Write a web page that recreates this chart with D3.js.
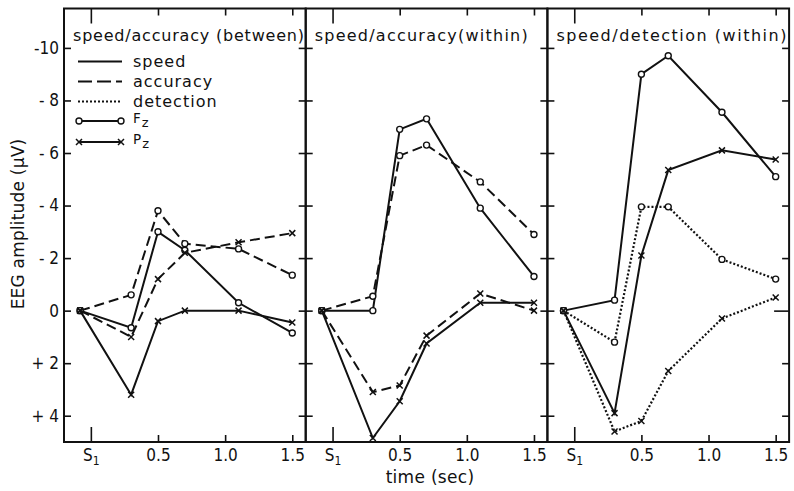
<!DOCTYPE html>
<html><head><meta charset="utf-8">
<script src="https://cdn.jsdelivr.net/npm/d3@7"></script>
<style>
body{margin:0;background:#fff}
svg text{font-family:"DejaVu Sans Condensed","DejaVu Sans",sans-serif;fill:#111}
svg text.wide{font-family:"DejaVu Sans",sans-serif}
</style></head><body>
<svg id="chart" width="794" height="491"></svg>
<script>
// Sample times (s) relative to stimulus S1; first point is the pre-stimulus baseline
const times = [-0.08, 0.3, 0.5, 0.7, 1.1, 1.5];

const panelTitles = ["speed/accuracy (between)", "speed/accuracy(within)", "speed/detection (within)"];
const xTickValues = [0, 0.5, 1.0, 1.5];
const xTickLabels = ["S", "0.5", "1.0", "1.5"];
const yTickValues = [-10, -8, -6, -4, -2, 0, 2, 4];
const yTickLabels = ["-10", "- 8", "- 6", "- 4", "- 2", "0", "+ 2", "+ 4"];

// speed/accuracy (between)
const betweenSpeedFz    = [0, 0.65, -3.0, -2.3, -0.3, 0.85];
const betweenAccuracyFz = [0, -0.6, -3.8, -2.55, -2.35, -1.35];
const betweenSpeedPz    = [0, 3.2, 0.4, 0.0, 0.0, 0.45];
const betweenAccuracyPz = [0, 1.0, -1.2, -2.2, -2.6, -2.95];

// speed/accuracy (within)
const withinSpeedFz    = [0, 0.0, -6.9, -7.3, -3.9, -1.3];
const withinAccuracyFz = [0, -0.55, -5.9, -6.3, -4.9, -2.9];
const withinSpeedPz    = [0, 4.85, 3.45, 1.25, -0.3, -0.3];
const withinAccuracyPz = [0, 3.1, 2.85, 0.95, -0.65, 0.0];

// speed/detection (within)
const detSpeedFz     = [0, -0.4, -9.0, -9.7, -7.55, -5.1];
const detSpeedPz     = [0, 3.9, -2.1, -5.35, -6.1, -5.75];
const detDetectionFz = [0, 1.2, -3.95, -3.95, -1.95, -1.2];
const detDetectionPz = [0, 4.6, 4.2, 2.3, 0.3, -0.5];

const legendConditions = ["speed", "accuracy", "detection"];
const legendSites = ["F", "P"];

const panelSeries = [
  [
    {cond: "speed", site: "Fz", values: betweenSpeedFz},
    {cond: "accuracy", site: "Fz", values: betweenAccuracyFz},
    {cond: "speed", site: "Pz", values: betweenSpeedPz},
    {cond: "accuracy", site: "Pz", values: betweenAccuracyPz}
  ],
  [
    {cond: "speed", site: "Fz", values: withinSpeedFz},
    {cond: "accuracy", site: "Fz", values: withinAccuracyFz},
    {cond: "speed", site: "Pz", values: withinSpeedPz},
    {cond: "accuracy", site: "Pz", values: withinAccuracyPz}
  ],
  [
    {cond: "speed", site: "Fz", values: detSpeedFz},
    {cond: "speed", site: "Pz", values: detSpeedPz},
    {cond: "detection", site: "Fz", values: detDetectionFz},
    {cond: "detection", site: "Pz", values: detDetectionPz}
  ]
];

const dash = {speed: null, accuracy: "10,5", detection: "2,2"};
const width = {speed: 2, accuracy: 2, detection: 2.2};

const svg = d3.select("#chart");
const plotLeft = 64, panelW = 241.7, plotTop = 8.5, plotBottom = 442;
const titleWidths = [231, 213, 230];

const y = d3.scaleLinear().domain([-11.5, 5]).range([plotTop, plotBottom]);
const line = (x) => d3.line().x((d, i) => x(times[i])).y(d => y(d));

function drawMarker(g, site, cx, cy) {
  if (site === "Fz") {
    g.append("circle").attr("cx", cx).attr("cy", cy).attr("r", 3)
      .attr("fill", "#fff").attr("stroke", "#111").attr("stroke-width", 1.4);
  } else {
    const s = 3;
    g.append("path")
      .attr("d", `M${cx - s},${cy - s}L${cx + s},${cy + s}M${cx - s},${cy + s}L${cx + s},${cy - s}`)
      .attr("stroke", "#111").attr("stroke-width", 1.5).attr("fill", "none");
  }
}

panelTitles.forEach((title, p) => {
  const x0 = plotLeft + p * panelW;
  const x = d3.scaleLinear().domain([-0.2, 1.6]).range([x0, x0 + panelW]);
  const g = svg.append("g");

  // tick marks on all four sides, pointing inward
  const axL = g.append("g").attr("transform", `translate(${x0},0)`)
    .call(d3.axisLeft(y).tickValues(yTickValues).tickSize(-7).tickPadding(5)
      .tickFormat((d, i) => p === 0 ? yTickLabels[i] : ""));
  const axR = g.append("g").attr("transform", `translate(${x0 + panelW},0)`)
    .call(d3.axisRight(y).tickValues(yTickValues).tickSize(-7).tickFormat(""));
  if (p === 2) axR.selectAll(".tick").filter(d => d === 0).select("line").attr("x2", -15);
  const axT = g.append("g").attr("transform", `translate(0,${plotTop})`)
    .call(d3.axisTop(x).tickValues(xTickValues).tickSize(-7).tickFormat(""));
  axT.selectAll(".tick").filter(d => d === 0).select("line").attr("y2", 15);
  const axB = g.append("g").attr("transform", `translate(0,${plotBottom})`)
    .call(d3.axisBottom(x).tickValues(xTickValues).tickSize(-7).tickPadding(7)
      .tickFormat((d, i) => xTickLabels[i]));
  axB.selectAll(".tick").filter(d => d === 0).select("line").attr("y2", -15);
  axB.selectAll(".tick").filter(d => d === 0).select("text")
    .append("tspan").attr("font-size", 12).attr("dy", "0.3em").text("1");

  [axL, axR, axT, axB].forEach(a => {
    a.select(".domain").remove();
    a.selectAll("line").attr("stroke", "#111").attr("stroke-width", 1.6);
    a.selectAll("text").attr("font-size", 17).attr("fill", "#111")
      .style("font-family", '"DejaVu Sans Condensed","DejaVu Sans",sans-serif');
  });

  // frame
  g.append("rect").attr("x", x0).attr("y", plotTop).attr("width", panelW).attr("height", plotBottom - plotTop)
    .attr("fill", "none").attr("stroke", "#111").attr("stroke-width", 2);

  g.append("text").attr("class", "wide").attr("x", x0 + 9).attr("y", 41)
    .attr("font-size", 16).attr("textLength", titleWidths[p]).attr("lengthAdjust", "spacing")
    .text(title);

  panelSeries[p].forEach(s => {
    g.append("path").datum(s.values).attr("d", line(x))
      .attr("fill", "none").attr("stroke", "#111").attr("stroke-width", width[s.cond])
      .attr("stroke-dasharray", dash[s.cond]);
    s.values.forEach((v, i) => drawMarker(g, s.site, x(times[i]), y(v)));
  });
});

// legend inside the first panel
const lg = svg.append("g");
const lx0 = 79, lx1 = 121, ltx = 133;
legendConditions.forEach((c, i) => {
  const ly = 61.5 + i * 20;
  lg.append("line").attr("x1", lx0 - 1).attr("x2", lx1 + 1).attr("y1", ly).attr("y2", ly)
    .attr("stroke", "#111").attr("stroke-width", c === "detection" ? 1.8 : 2.2)
    .attr("stroke-dasharray", c === "accuracy" ? "14,5" : dash[c]);
  lg.append("text").attr("class", "wide").attr("x", ltx).attr("y", ly + 5.5)
    .attr("font-size", 16).attr("letter-spacing", 1).text(c);
});
legendSites.forEach((s, i) => {
  const ly = 121 + i * 21;
  lg.append("line").attr("x1", lx0).attr("x2", lx1).attr("y1", ly).attr("y2", ly)
    .attr("stroke", "#111").attr("stroke-width", 2.2);
  drawMarker(lg, s + "z", lx0, ly);
  drawMarker(lg, s + "z", lx1, ly);
  const t = lg.append("text").attr("class", "wide").attr("x", ltx).attr("y", ly + 2).attr("font-size", 13.5).text(s);
  t.append("tspan").attr("dx", 1).attr("dy", 3.5).attr("font-size", 13).text("z");
});

// axis titles
svg.append("text").attr("class", "wide").attr("transform", "translate(24,224) rotate(-90)")
  .attr("text-anchor", "middle").attr("font-size", 17).attr("letter-spacing", 0.2)
  .text("EEG amplitude (\u03bcV)");
svg.append("text").attr("class", "wide").attr("x", 430).attr("y", 483)
  .attr("text-anchor", "middle").attr("font-size", 17).attr("letter-spacing", 0.3).text("time (sec)");
</script>
</body></html>
